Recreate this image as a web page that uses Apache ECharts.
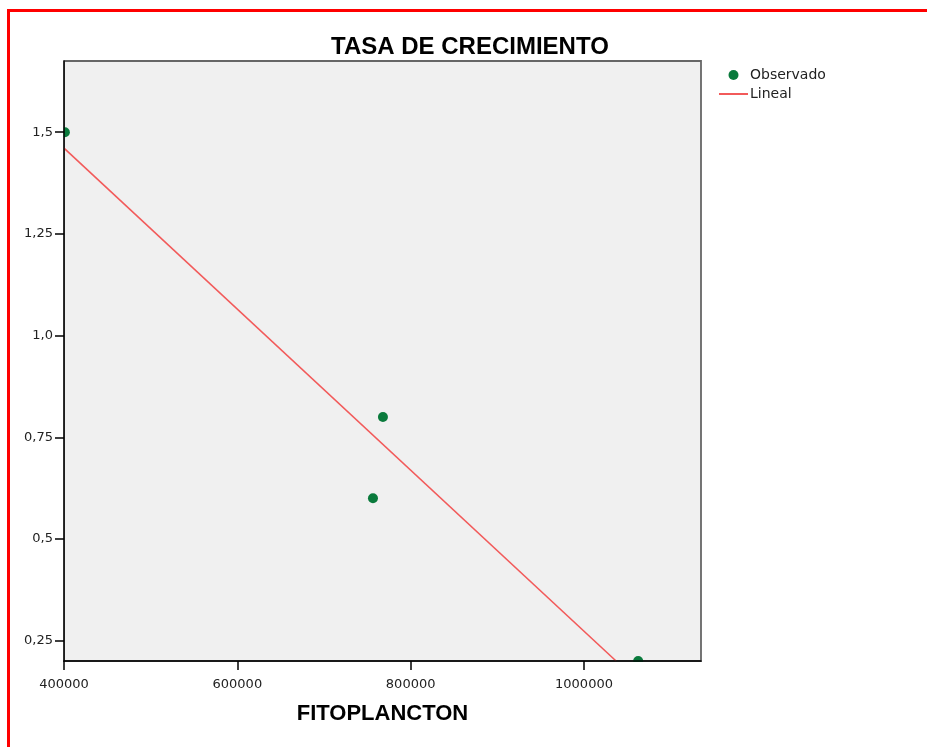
<!DOCTYPE html>
<html>
<head>
<meta charset="utf-8">
<script src="https://cdn.jsdelivr.net/npm/echarts@6/dist/echarts.min.js"></script>
<style>
html,body{margin:0;padding:0;background:#fff;}
#chart{width:927px;height:747px;}
#frame{position:absolute;left:7px;top:9px;width:1200px;height:1200px;border-left:3px solid #ff0000;border-top:3px solid #ff0000;pointer-events:none;}
</style>
</head>
<body>
<div id="chart"></div>
<div id="frame"></div>
<script>
// Data
const titleText = 'TASA DE CRECIMIENTO';
const xName = 'FITOPLANCTON';
const observedX = [401000, 756500, 768000, 1062500];
const observedY = [1.5, 0.6, 0.8, 0.2];
const lineX = [400000, 1037000];
const lineY = [1.461, 0.2];
const xTicks = [400000, 600000, 800000, 1000000];
const yTicks = [0.25, 0.5, 0.75, 1.0, 1.25, 1.5];
const yTickLabels = ['0,25', '0,5', '0,75', '1,0', '1,25', '1,5'];
const seriesNames = ['Observado', 'Lineal'];

const chart = echarts.init(document.getElementById('chart'));
const labelFont = 'DejaVu Sans';
chart.setOption({
  animation: false,
  backgroundColor: '#ffffff',
  title: {
    text: titleText,
    left: 326, top: 30,
    textStyle: {fontFamily: 'Liberation Sans', fontWeight: 'bold', fontSize: 24, color: '#000'}
  },
  legend: {
    orient: 'vertical',
    left: 713, top: 63,
    itemWidth: 29, itemHeight: 10, itemGap: 5,
    data: [
      {name: seriesNames[0], icon: 'circle'},
      {name: seriesNames[1], itemStyle: {opacity: 0}}
    ],
    textStyle: {fontFamily: labelFont, fontSize: 14, color: '#222', padding: [0,0,0,-3]}
  },
  grid: {
    left: 64, top: 61, right: 226, bottom: 86,
    show: true, backgroundColor: '#f0f0f0', borderColor: '#666', borderWidth: 1.8
  },
  xAxis: {
    type: 'value', min: 400000, max: 1135000, interval: 200000, z: 10,
    name: xName, nameLocation: 'middle', nameGap: 42,
    nameTextStyle: {fontFamily: 'Liberation Sans', fontWeight: 'bold', fontSize: 22, color: '#000'},
    axisLine: {show: true, onZero: false, lineStyle: {color: '#000', width: 1.5}},
    axisTick: {show: true, length: 9, customValues: xTicks, lineStyle: {color: '#000', width: 1.5}},
    axisLabel: {customValues: xTicks, margin: 17, fontFamily: labelFont, fontSize: 13, color: '#222',
      formatter: v => String(v)},
    splitLine: {show: false}
  },
  yAxis: {
    type: 'value', min: 0.2, max: 1.675, z: 10,
    axisLine: {show: true, onZero: false, lineStyle: {color: '#000', width: 1.5}},
    axisTick: {show: true, length: 9, customValues: yTicks, lineStyle: {color: '#000', width: 1.5}},
    axisLabel: {customValues: yTicks, margin: 11, fontFamily: labelFont, fontSize: 13, color: '#222',
      formatter: v => { const i = yTicks.findIndex(t => Math.abs(t - v) < 1e-9); return i >= 0 ? yTickLabels[i] : ''; }},
    splitLine: {show: false}
  },
  graphic: [
    {type: 'rect', z: 5, shape: {x: 50, y: 662, width: 660, height: 14}, style: {fill: '#fff'}},
    {type: 'rect', z: 5, shape: {x: 50, y: 55, width: 13.5, height: 607}, style: {fill: '#fff'}}
  ],
  series: [
    {
      name: seriesNames[0], type: 'scatter', z: 3,
      symbol: 'circle', symbolSize: 10,
      itemStyle: {color: '#0a7a3c', opacity: 1},
      data: observedX.map((x, i) => [x, observedY[i]])
    },
    {
      name: seriesNames[1], type: 'line', z: 2,
      symbol: 'none', clip: true,
      lineStyle: {color: '#f25a5a', width: 1.6},
      itemStyle: {color: '#f25a5a'},
      data: lineX.map((x, i) => [x, lineY[i]])
    }
  ]
});
</script>
</body>
</html>
